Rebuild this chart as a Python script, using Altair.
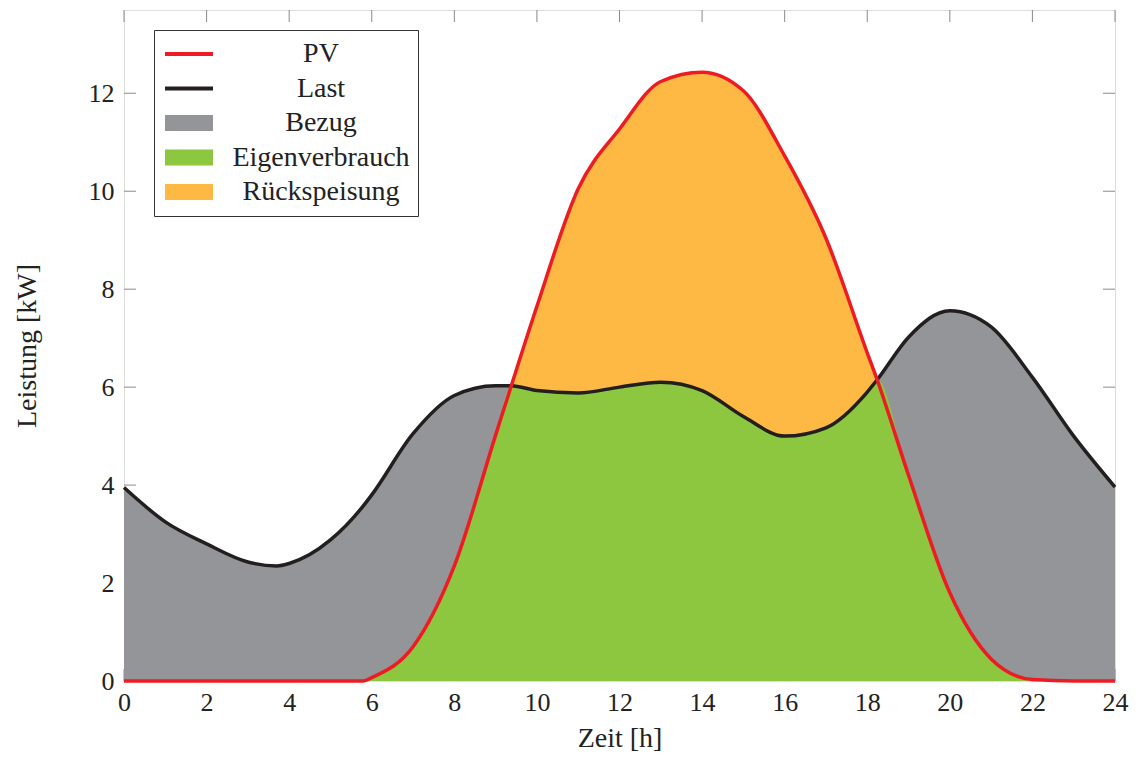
import altair as alt
import pandas as pd

# ---- data ----
hours = [0, 1, 2, 3, 3.7, 4, 5, 5.8, 6, 7, 8, 9, 9.38, 10, 11, 12, 13, 14, 15, 16, 17, 18, 18.24, 19, 20, 21, 22, 23, 24]
pv = [0, 0, 0, 0, 0, 0, 0, 0, 0.07, 0.7, 2.35, 5.02, 6.03, 7.65, 10.05, 11.27, 12.24, 12.43, 12.05, 10.72, 9.04, 6.7, 6.15, 4.2, 1.8, 0.45, 0.03, 0, 0]
last = [3.95, 3.25, 2.8, 2.43, 2.35, 2.4, 2.88, 3.58, 3.8, 5.05, 5.83, 6.03, 6.03, 5.93, 5.88, 6.0, 6.1, 5.93, 5.4, 5.0, 5.17, 5.9, 6.15, 7.02, 7.56, 7.23, 6.2, 5.0, 3.96]

series_names = ["PV", "Last", "Bezug", "Eigenverbrauch", "Rückspeisung"]
x_ticks = [0, 2, 4, 6, 8, 10, 12, 14, 16, 18, 20, 22, 24]
y_ticks = [0, 2, 4, 6, 8, 10, 12]

# ---- styles ----
RED = "#ED1C24"
BLACK = "#231F20"
GRAY = "#939598"
GREEN = "#8DC63F"
ORANGE = "#FDB943"
TICK = "#8a8a8a"
series_colors = [RED, BLACK, GRAY, GREEN, ORANGE]
LINE_PATH = "M-1,-0.125H2V0.125H-1Z M0,-1 M0,1"
BOX_PATH = "M-1,-0.5H2V0.5H-1Z M0,-1 M0,1"
series_shapes = [LINE_PATH, LINE_PATH, BOX_PATH, BOX_PATH, BOX_PATH]
FONT = "Liberation Serif"
W, H = 991, 671

own = [min(a, b) for a, b in zip(pv, last)]
df = pd.DataFrame({"hour": hours, "pv": pv, "last": last, "own": own})
xt = pd.DataFrame({"t": x_ticks})
yt = pd.DataFrame({"t": y_ticks})
leg = pd.DataFrame({"series": series_names})

xscale = alt.Scale(domain=[0, 24], nice=False, zero=False)
yscale = alt.Scale(domain=[0, 13.7], nice=False)

xaxis = alt.Axis(values=x_ticks, title="Zeit [h]", ticks=False, tickSize=0, grid=False, domain=False,
                 labelFont=FONT, labelFontSize=26, labelColor="#222", labelPadding=8,
                 titleFont=FONT, titleFontSize=28, titleFontWeight="normal", titleColor="#222",
                 titleY=57, titleBaseline="middle", labelFlush=False)
yaxis = alt.Axis(values=y_ticks, title="Leistung [kW]", ticks=False, tickSize=0, grid=False, domain=False,
                 labelFont=FONT, labelFontSize=26, labelColor="#222", labelPadding=10,
                 titleFont=FONT, titleFontSize=28, titleFontWeight="normal", titleColor="#222",
                 titleX=-97, titleAngle=270, titleBaseline="middle", labelFlush=False)


def X(field):
    return alt.X(field, type="quantitative", scale=xscale, axis=xaxis)


def Y(field):
    return alt.Y(field, type="quantitative", scale=yscale, axis=yaxis)


top_ticks = alt.Chart(xt).mark_rule(color=TICK, strokeWidth=1).encode(
    x=X("t"), y=alt.value(0), y2=alt.value(12))
bot_ticks = alt.Chart(xt).mark_rule(color=TICK, strokeWidth=1).encode(
    x=X("t"), y=alt.value(H - 12), y2=alt.value(H))
left_ticks = alt.Chart(yt).mark_rule(color=TICK, strokeWidth=1).encode(
    y=Y("t"), x=alt.value(0), x2=alt.value(12))
right_ticks = alt.Chart(yt).mark_rule(color=TICK, strokeWidth=1).encode(
    y=Y("t"), x=alt.value(W - 12), x2=alt.value(W))

base = alt.Chart(df)
gray_area = base.mark_area(color=GRAY, interpolate="monotone").encode(x=X("hour"), y=Y("last"))
orange_area = base.mark_area(color=ORANGE, interpolate="monotone").encode(x=X("hour"), y=Y("pv"))
green_area = base.mark_area(color=GREEN, interpolate="monotone").encode(x=X("hour"), y=Y("own"))
last_line = base.mark_line(color=BLACK, strokeWidth=3.5, interpolate="monotone").encode(x=X("hour"), y=Y("last"))
pv_line = base.mark_line(color=RED, strokeWidth=3.5, interpolate="monotone").encode(x=X("hour"), y=Y("pv"))

legend = alt.Legend(title=None, orient="none", legendX=30, legendY=20,
                    symbolSize=1024, symbolStrokeWidth=0, symbolOpacity=1,
                    labelFont=FONT, labelFontSize=28, labelColor="#222",
                    labelAlign="center", labelBaseline="middle", labelOffset=124,
                    rowPadding=2.5, padding=8, strokeColor="#333", fillColor="white",
                    symbolOffset=3, labelLimit=400)

legend_layer = alt.Chart(leg).mark_point(filled=True, opacity=0).encode(
    x=alt.value(0), y=alt.value(0),
    color=alt.Color("series:N", scale=alt.Scale(domain=series_names, range=series_colors), legend=legend),
    shape=alt.Shape("series:N", scale=alt.Scale(domain=series_names, range=series_shapes), legend=legend),
)

chart = alt.layer(
    top_ticks, bot_ticks, left_ticks, right_ticks,
    gray_area, orange_area, green_area, last_line, pv_line, legend_layer
).properties(
    width=W, height=H,
    autosize=alt.AutoSizeParams(type="none"),
    padding={"left": 116, "top": 2, "right": 16, "bottom": 70},
).configure_view(stroke="#333", strokeWidth=1.2).configure(background="white")

chart.save("out.html", embed_options={"renderer": "svg", "actions": False})
